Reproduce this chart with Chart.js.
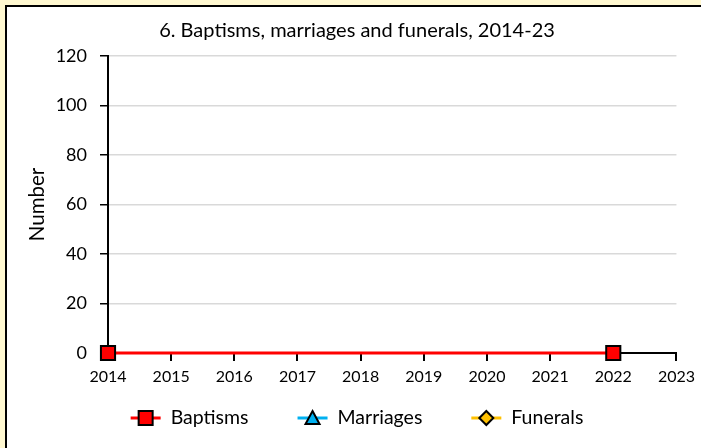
<!DOCTYPE html>
<html>
<head>
<meta charset="utf-8">
<script src="https://cdn.jsdelivr.net/npm/chart.js@4/dist/chart.umd.min.js"></script>
<style>
    body { margin: 0; background: #FFF8D0; overflow: hidden; }
    #frame {
        position: absolute; left: 5px; top: 5px;
        width: 696px; height: 443px;
        border-left: 2px solid #000; border-top: 2px solid #000;
        background: #fff;
    }
    canvas { display: block; }
</style>
</head>
<body>
<div id="frame"><canvas id="myChart" width="694" height="441"></canvas></div>
<script>
(function () {

    'use strict';

    var titleText = '6. Baptisms, marriages and funerals, 2014-23';
    var years = ['2014', '2015', '2016', '2017', '2018', '2019', '2020', '2021', '2022', '2023'];
    var seriesNames = ['Baptisms', 'Marriages', 'Funerals'];
    var baptisms = [0, null, null, null, null, null, null, null, 0, null];
    var marriages = [null, null, null, null, null, null, null, null, null, null];
    var funerals = [null, null, null, null, null, null, null, null, null, null];
    var yTicks = [0, 20, 40, 60, 80, 100, 120];

    var colors = ['#FF0000', '#00B0F0', '#FFC000'];
    var shapes = ['rect', 'triangle', 'rectRot'];
    var FONT = 'Lato';

    function drawMarker(g, shape, cx, cy, color) {
        g.fillStyle = color; g.strokeStyle = '#000'; g.lineWidth = 2;
        g.beginPath();
        if (shape === 'rect') {
            g.rect(cx - 7, cy - 7, 14, 14);
        } else if (shape === 'triangle') {
            g.moveTo(cx, cy - 7); g.lineTo(cx + 7, cy + 6); g.lineTo(cx - 7, cy + 6); g.closePath();
        } else {
            g.moveTo(cx, cy - 7); g.lineTo(cx + 7, cy); g.lineTo(cx, cy + 7); g.lineTo(cx - 7, cy); g.closePath();
        }
        g.fill(); g.stroke();
    }

    // legend like the spreadsheet one: line + marker, then the name
    var lineLegend = {
        id: 'lineLegend',
        afterDraw: function (chart) {
            var g = chart.ctx;
            var iconW = 30, textGap = 10, itemGap = 49;
            g.save();
            g.font = '19.5px ' + FONT;
            var widths = seriesNames.map(function (n) { return g.measureText(n).width; });
            var total = 0;
            widths.forEach(function (w, i) { total += iconW + textGap + w + (i ? itemGap : 0); });
            var tb = chart.titleBlock;
            var x = (tb.left + tb.right) / 2 - total / 2;
            var y = chart.chartArea.bottom + 65;
            seriesNames.forEach(function (name, i) {
                g.strokeStyle = colors[i]; g.lineWidth = 3;
                g.beginPath(); g.moveTo(x, y); g.lineTo(x + iconW, y); g.stroke();
                drawMarker(g, shapes[i], x + iconW / 2, y, colors[i]);
                g.fillStyle = '#000';
                g.textBaseline = 'middle';
                g.textAlign = 'left';
                g.fillText(name, x + iconW + textGap, y);
                x += iconW + textGap + widths[i] + itemGap;
            });
            g.restore();
        }
    };

    var seriesData = [baptisms, marriages, funerals];
    var datasets = seriesNames.map(function (name, i) {
        return {
            label: name,
            data: seriesData[i],
            borderColor: colors[i],
            backgroundColor: colors[i],
            borderWidth: 3,
            spanGaps: true,
            pointStyle: shapes[i],
            pointRadius: 10,
            pointHoverRadius: 10,
            pointBackgroundColor: colors[i],
            pointBorderColor: '#000',
            pointBorderWidth: 2,
            clip: false
        };
    });

    var ctx = document.getElementById('myChart').getContext('2d');
    var myChart = new Chart(ctx, {
        type: 'line',
        data: { labels: years, datasets: datasets },
        plugins: [lineLegend],
        options: {
            responsive: false,
            animation: false,
            layout: { padding: { left: 8, right: 2, top: 0, bottom: 55 } },
            plugins: {
                title: {
                    display: true,
                    text: titleText,
                    color: '#000',
                    font: { family: FONT, size: 20, weight: 'normal' },
                    padding: { top: 12, bottom: 13 }
                },
                legend: { display: false },
                tooltip: { enabled: false }
            },
            scales: {
                x: {
                    offset: false,
                    afterFit: function (scale) { scale.height = 40; },
                    grid: { drawOnChartArea: false, color: '#000', lineWidth: 2, tickLength: 8 },
                    border: { color: '#000', width: 2 },
                    ticks: { color: '#000', padding: 6, maxRotation: 0, font: { family: FONT, size: 16 } }
                },
                y: {
                    min: yTicks[0],
                    max: yTicks[yTicks.length - 1],
                    afterFit: function (scale) { scale.width = 93; },
                    ticks: { stepSize: 20, color: '#000', padding: 13, font: { family: FONT, size: 18 } },
                    grid: { color: '#d9d9d9', lineWidth: 1.5, tickColor: '#000', tickLength: 8 },
                    border: { color: '#000', width: 2 },
                    title: {
                        display: true,
                        text: 'Number',
                        color: '#000',
                        font: { family: FONT, size: 20.5 },
                        padding: { top: 10, bottom: 0 }
                    }
                }
            }
        }
    });

})();
</script>
</body>
</html>
